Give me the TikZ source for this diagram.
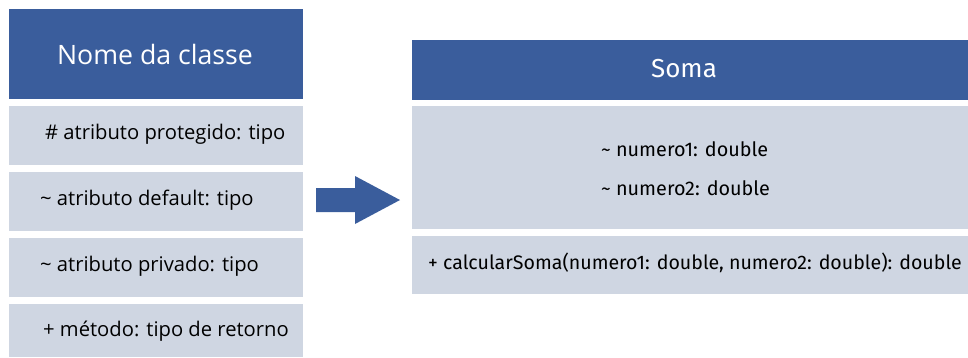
\documentclass[tikz,border=0pt]{standalone}
\usepackage{fontspec}
\setmainfont{Open Sans}
\newfontfamily\rightfont{Fira Sans}
\definecolor{hdrblue}{RGB}{58,93,156}
\definecolor{rowgray}{RGB}{207,214,226}
\begin{document}
\begin{tikzpicture}[x=1pt,y=-1pt,
  hdr/.style={fill=hdrblue,draw=none,inner sep=0pt},
  row/.style={fill=rowgray,draw=none,inner sep=0pt},
  lbl/.style={inner sep=0pt,anchor=west,text=black},
  hdrtxt/.style={inner sep=0pt,text=white}]
\useasboundingbox (0,0) rectangle (968,357);
% left class
\path[hdr] (9,9) rectangle (303,99);
\node[hdrtxt,font=\fontsize{26.7}{30}\selectfont] (lh) at (155,54) {Nome da classe};
\path[row] (9,106) rectangle (303,165);
\path[row] (9,172) rectangle (303,231);
\path[row] (9,238) rectangle (303,297);
\path[row] (9,304) rectangle (303,357);
\node[lbl,font=\fontsize{20.2}{24}\selectfont] (t1) at (45,134) {\# atributo protegido: tipo};
\node[lbl,font=\fontsize{20.2}{24}\selectfont] (t2) at (40,200) {\textasciitilde{} atributo default: tipo};
\node[lbl,font=\fontsize{20.2}{24}\selectfont] (t3) at (40,266) {\textasciitilde{} atributo privado: tipo};
\node[lbl,font=\fontsize{20.2}{24}\selectfont] (t4) at (43,331) {+ método: tipo de retorno};
% arrow
\fill[hdrblue] (316,188) -- (355,188) -- (355,176) -- (400,200) -- (355,224) -- (355,212) -- (316,212) -- cycle;
% right class
\path[hdr] (412,40) rectangle (968,100);
\node[hdrtxt,font=\rightfont\fontsize{26}{30}\selectfont] (rh) at (684,69) {Soma};
\path[row] (412,106) rectangle (968,229);
\path[row] (412,236) rectangle (968,294);
\node[lbl,font=\rightfont\fontsize{19.8}{24}\selectfont] (a1) at (601,149) {\textasciitilde{} numero1: double};
\node[lbl,font=\rightfont\fontsize{19.8}{24}\selectfont] (a2) at (601,188) {\textasciitilde{} numero2: double};
\node[lbl,font=\rightfont\fontsize{19.6}{24}\selectfont] (m1) at (428,263) {+ calcularSoma(numero1: double, numero2: double): double};
\end{tikzpicture}
\end{document}
